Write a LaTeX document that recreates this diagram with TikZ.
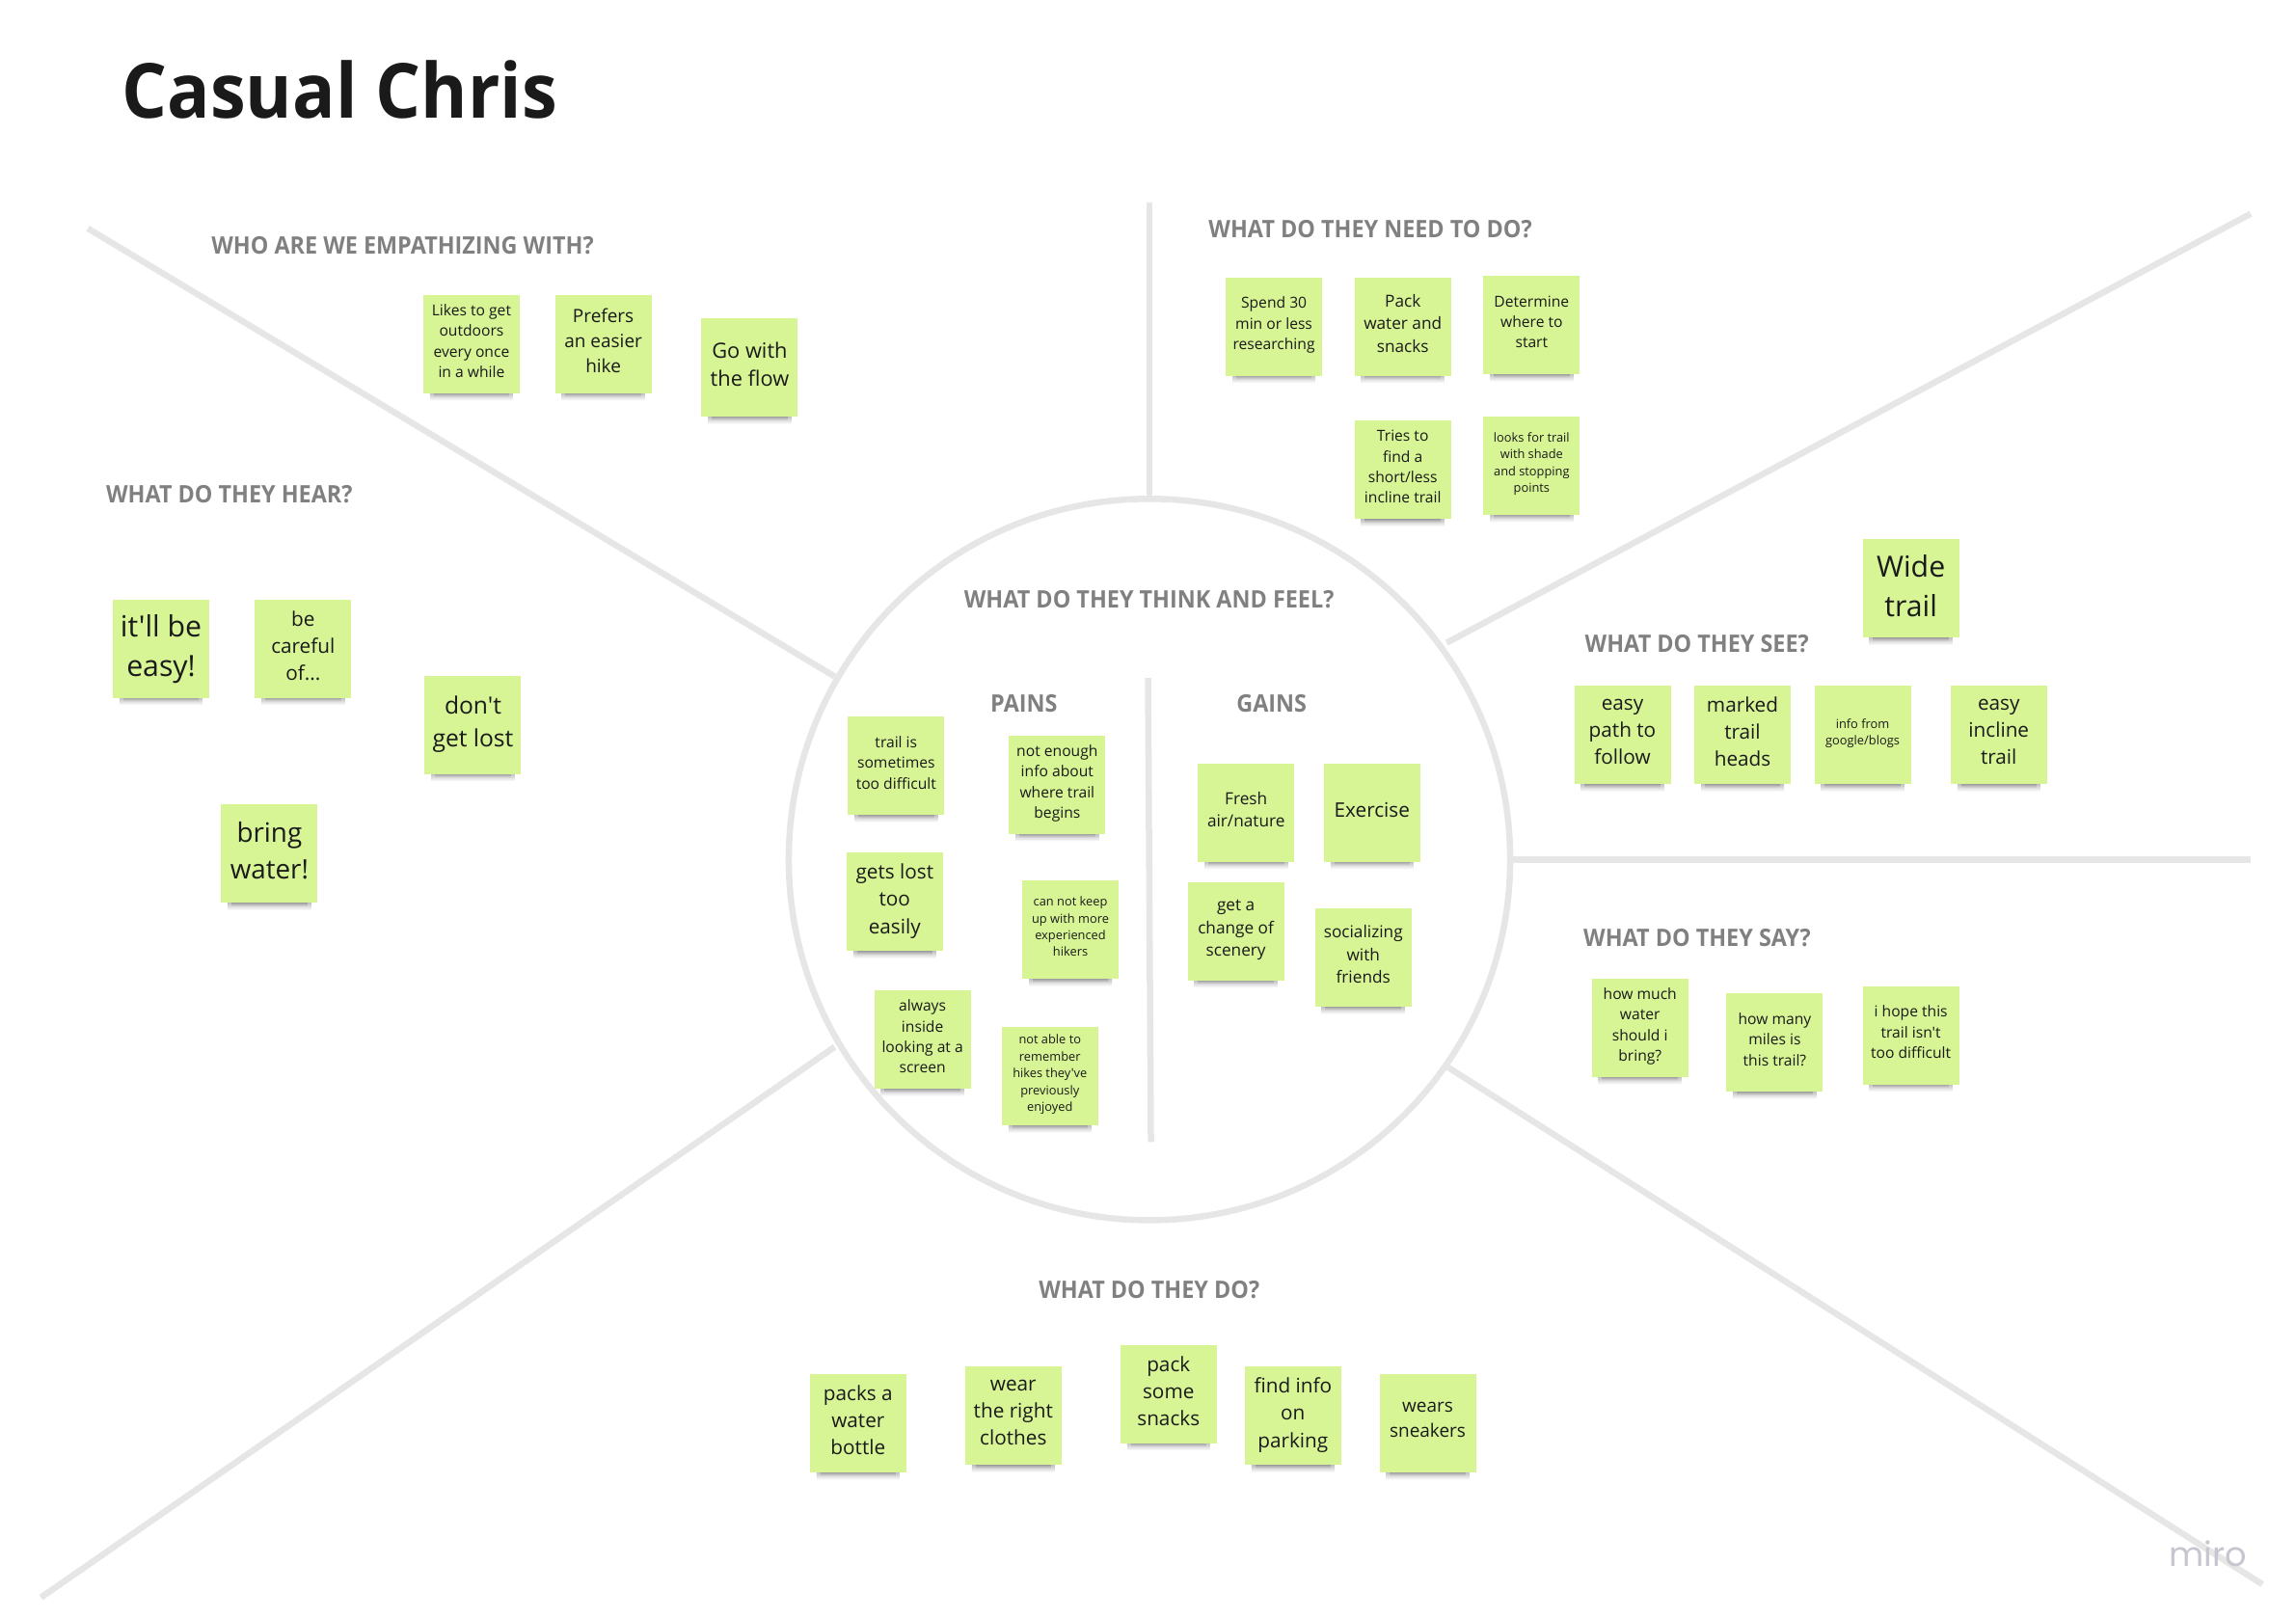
\documentclass[tikz,border=0pt]{standalone}
\usepackage{fontspec}
\setmainfont{Open Sans}[Ligatures=TeXOff,BoldFeatures={FakeStretch=0.937}]
\newfontfamily\mirofont{Poppins}
\usetikzlibrary{shadows}
\definecolor{notegreen}{HTML}{D7F595}
\definecolor{rulegray}{HTML}{E6E6E6}
\definecolor{headgray}{HTML}{808080}
\definecolor{inkblack}{HTML}{1A1A1A}
\definecolor{mirogray}{HTML}{C6C6D0}
\pgfdeclareverticalshading{noteshade}{100bp}{color(0bp)=(white); color(25bp)=(white); color(30bp)=(black!80); color(100bp)=(black!80)}
\tikzset{
  note/.style={inner sep=0pt,minimum width=1cm,minimum height=1.02cm,fill=notegreen,text=inkblack,align=center,text depth=1.9pt,
    general shadow={shadow yshift=-0.213cm,shadow scale=0.70,shading=noteshade,opacity=0.5},
    general shadow={shadow yshift=-0.192cm,shadow scale=0.78,shading=noteshade,opacity=0.5},
    general shadow={shadow yshift=-0.171cm,shadow scale=0.86,shading=noteshade,opacity=0.35}},
  notea/.style={note,font=\fontsize{3.65}{4.97}\selectfont},
  noteb/.style={note,font=\fontsize{4.45}{6.05}\selectfont},
  notec/.style={note,font=\fontsize{4.9}{6.7}\selectfont},
  noted/.style={note,font=\fontsize{5.4}{7.4}\selectfont},
  notee/.style={note,font=\fontsize{5.9}{8}\selectfont},
  notef/.style={note,font=\fontsize{6.2}{8.4}\selectfont},
  noteg/.style={note,font=\fontsize{7}{9.5}\selectfont},
  noteh/.style={note,font=\fontsize{7.9}{10.8}\selectfont},
  notei/.style={note,font=\fontsize{8.6}{11.7}\selectfont},
  head/.style={anchor=base west,inner sep=0pt,text=headgray,font=\fontsize{7.1}{8}\selectfont\bfseries},
  divider/.style={draw=rulegray,line width=1.85pt}
}
\begin{document}
\begin{tikzpicture}[x=0.015185cm,y=-0.015185cm]
  \useasboundingbox (0,0) rectangle (1568,1105.7);
  % dividers
  \node[circle,draw=rulegray,line width=1.85pt,inner sep=0pt,minimum size=7.48cm](hub) at (785,587){};
  \coordinate (topend) at (785,138);
  \coordinate (topin) at (785,339);
  \coordinate (ulend) at (60,156);
  \coordinate (ulin) at (570,462);
  \coordinate (urend) at (1537,146);
  \coordinate (urin) at (988,439);
  \coordinate (rend) at (1537,587);
  \coordinate (rin) at (1033,587);
  \coordinate (lrend) at (1545,1082);
  \coordinate (lrin) at (989,729);
  \coordinate (llend) at (28,1091);
  \coordinate (llin) at (570,715);
  \coordinate (midtop) at (784,463);
  \coordinate (midbot) at (786,780);
  \draw[divider] (topend) -- (topin);
  \draw[divider] (ulend) -- (ulin);
  \draw[divider] (urend) -- (urin);
  \draw[divider] (rend) -- (rin);
  \draw[divider] (lrend) -- (lrin);
  \draw[divider] (llend) -- (llin);
  \draw[divider] (midtop) -- (midbot);
  % headings
  \node[anchor=base west,inner sep=0pt,text=inkblack,font=\fontsize{22.4}{26}\selectfont\bfseries](title) at (83,81){Casual Chris};
  \node[head](who) at (144,173.4){WHO ARE WE EMPATHIZING WITH?};
  \node[head](need) at (825,162.5){WHAT DO THEY NEED TO DO?};
  \node[head](hear) at (72,343.5){WHAT DO THEY HEAR?};
  \node[head](think) at (658,415.5){WHAT DO THEY THINK AND FEEL?};
  \node[head](see) at (1082,445.5){WHAT DO THEY SEE?};
  \node[head](say) at (1081,646.5){WHAT DO THEY SAY?};
  \node[head](do) at (709,886.5){WHAT DO THEY DO?};
  \node[head](pains) at (676,486.5){PAINS};
  \node[head](gains) at (844,486.5){GAINS};
  % who
  \node[noteb](who1) at (322,235){Likes to get\\outdoors\\every once\\in a while};
  \node[noted](who2) at (412,235){Prefers\\an easier\\hike};
  \node[notef](who3) at (512,251){Go with\\the flow};
  % need
  \node[noteb](need1) at (870,223){Spend 30\\min or less\\researching};
  \node[notec](need2) at (958,223){Pack\\water and\\snacks};
  \node[noteb](need3) at (1046,222){Determine\\where to\\start};
  \node[noteb](need4) at (958,321){Tries to\\find a\\short/less\\incline trail};
  \node[notea](need5) at (1046,318){looks for trail\\with shade\\and stopping\\points};
  % hear
  \node[notei](hear1) at (110,443){it'll be\\easy!};
  \node[notee](hear2) at (207,443){be\\careful\\of...};
  \node[noteg](hear3) at (323,495){don't\\get lost};
  \node[noteh](hear4) at (184,583){bring\\water!};
  % see
  \node[notei](see1) at (1305,402){Wide\\trail};
  \node[notee](see2) at (1108,502){easy\\path to\\follow};
  \node[notee](see3) at (1190,502){marked\\trail\\heads};
  \node[notea](see4) at (1272,502){info from\\google/blogs};
  \node[notee](see5) at (1365,502){easy\\incline\\trail};
  % say
  \node[noteb](say1) at (1120,702){how much\\water\\should i\\bring?};
  \node[noteb](say2) at (1212,712){how many\\miles is\\this trail?};
  \node[noteb](say3) at (1305,707){i hope this\\trail isn't\\too difficult};
  % do
  \node[notee](do1) at (586,972){packs a\\water\\bottle};
  \node[notee](do2) at (692,967){wear\\the right\\clothes};
  \node[notee](do3) at (798,952){pack\\some\\snacks};
  \node[notee](do4) at (883,967){find info\\on\\parking};
  \node[noted](do5) at (975,972){wears\\sneakers};
  % pains
  \node[noteb](pain1) at (612,523){trail is\\sometimes\\too difficult};
  \node[noteb](pain2) at (722,536){not enough\\info about\\where trail\\begins};
  \node[notee](pain3) at (611,616){gets lost\\too\\easily};
  \node[notea](pain4) at (731,635){can not keep\\up with more\\experienced\\hikers};
  \node[noteb](pain5) at (630,710){always\\inside\\looking at a\\screen};
  \node[notea](pain6) at (717,735){not able to\\remember\\hikes they've\\previously\\enjoyed};
  % gains
  \node[notec](gain1) at (851,555){Fresh\\air/nature};
  \node[notee](gain2) at (937,555){Exercise};
  \node[notec](gain3) at (844,636){get a\\change of\\scenery};
  \node[notec](gain4) at (931,654){socializing\\with\\friends};
  % watermark
  \node[anchor=base west,inner sep=0pt,text=mirogray,font=\mirofont\fontsize{10}{12}\selectfont](miro) at (1481,1070){miro};
\end{tikzpicture}
\end{document}
